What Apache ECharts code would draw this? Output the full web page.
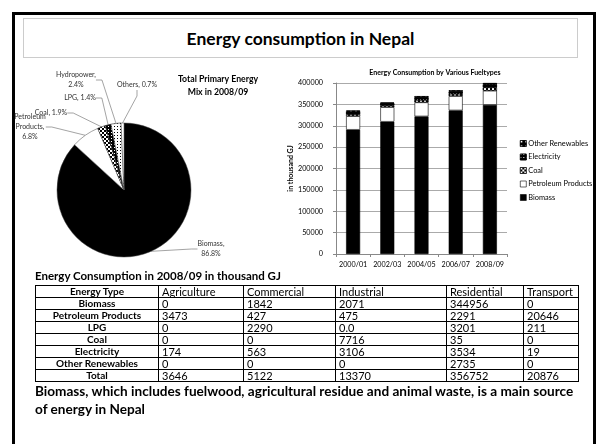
<!DOCTYPE html>
<html><head><meta charset="utf-8">
<script src="https://cdn.jsdelivr.net/npm/echarts@6/dist/echarts.min.js"></script>
<style>
html,body{margin:0;padding:0;background:#fff;}
body{width:602px;height:444px;overflow:hidden;position:relative;font-family:Lato,'Liberation Sans',sans-serif;color:#000;}
#frame{position:absolute;left:12px;top:12px;width:578px;height:440px;border:3px solid #000;border-bottom:none;}
#titlebox{position:absolute;left:23px;top:18px;width:553px;height:38px;border:1px solid #ccc;text-align:center;font-weight:bold;font-size:17.5px;line-height:39px;}
#chart{position:absolute;left:0;top:0;width:602px;height:444px;}
#ttitle{position:absolute;left:35px;top:269px;font-weight:bold;font-size:11.5px;line-height:14px;}
#tbl{position:absolute;left:35px;top:285px;width:543px;border-collapse:collapse;font-size:11px;table-layout:fixed;}
#tbl td{border:1px solid #000;height:11px;padding:0 3px;line-height:11px;white-space:nowrap;overflow:hidden;}
#tbl tr:first-child td{font-weight:bold;text-align:center;border-bottom:2px solid #000;font-size:10.5px;}
#tbl td:first-child{font-weight:bold;text-align:center;font-size:10px;}
#tbl tr:first-child td:first-child{font-size:10.5px;}
#caption{position:absolute;left:35px;top:382px;font-weight:bold;font-size:13.6px;line-height:18px;width:565px;white-space:nowrap;}
</style></head>
<body>
<div id="frame"></div>
<div id="titlebox">Energy consumption in Nepal</div>
<div id="chart"></div>
<div id="ttitle">Energy Consumption in 2008/09 in thousand GJ</div>
<table id="tbl"></table>
<div id="caption">Biomass, which includes fuelwood, agricultural residue and animal waste, is a main source<br>of energy in Nepal</div>
<script>
// ---- Pie data ----
const pieNames = ['Biomass','Petroleum Products','Coal','LPG','Hydropower','Others'];
const pieLabelText = ['Biomass,\n86.8%','Petroleum\nProducts,\n6.8%','Coal, 1.9%','LPG, 1.4%','Hydropower,\n2.4%','Others, 0.7%'];
const pieValues = [86.8, 6.8, 1.9, 1.4, 2.4, 0.7];

// ---- Bar data ----
const years = ['2000/01','2002/03','2004/05','2006/07','2008/09'];
const biomass = [290600, 309400, 321900, 335900, 348869];
const petroleum = [32000, 34300, 32800, 33600, 33014];
const coal = [4500, 4200, 5500, 5000, 7751];
const electricity = [5500, 4800, 6500, 6000, 7396];
const otherRenew = [3000, 1200, 2500, 2300, 2735];
const yTicks = [0,50000,100000,150000,200000,250000,300000,350000,400000];

// ---- Table data ----
const tableHeader = ['Energy Type','Agriculture','Commercial','Industrial','Residential','Transport'];
const tableTypes = ['Biomass','Petroleum Products','LPG','Coal','Electricity','Other Renewables','Total'];
const tAgriculture = ['0','3473','0','0','174','0','3646'];
const tCommercial = ['1842','427','2290','0','563','0','5122'];
const tIndustrial = ['2071','475','0.0','7716','3106','0','13370'];
const tResidential = ['344956','2291','3201','35','3534','2735','356752'];
const tTransport = ['0','20646','211','0','19','0','20876'];
const colWidths = [123,85,92,111,77,55];

// build table
(function(){
  const tbl = document.getElementById('tbl');
  const cg = document.createElement('colgroup');
  colWidths.forEach(w=>{const c=document.createElement('col');c.style.width=w+'px';cg.appendChild(c);});
  tbl.appendChild(cg);
  const hr = document.createElement('tr');
  tableHeader.forEach(h=>{const td=document.createElement('td');td.textContent=h;hr.appendChild(td);});
  tbl.appendChild(hr);
  tableTypes.forEach((t,i)=>{
    const tr=document.createElement('tr');
    [t,tAgriculture[i],tCommercial[i],tIndustrial[i],tResidential[i],tTransport[i]].forEach(v=>{
      const td=document.createElement('td');td.textContent=v;tr.appendChild(td);});
    tbl.appendChild(tr);
  });
})();

const checker = {symbol:'rect',symbolSize:1,color:'#000',backgroundColor:'#fff',dashArrayX:[[2,2],[0,2,2,0]],dashArrayY:[2,0],rotation:0};
const dotsOnWhite = {symbol:'rect',symbolSize:1,color:'#000',backgroundColor:'#fff',dashArrayX:[[1,2]],dashArrayY:[1,2],rotation:0};
const dotsOnBlack = {symbol:'rect',symbolSize:1,color:'#fff',backgroundColor:'#000',dashArrayX:[[1,2]],dashArrayY:[1,2],rotation:0};
const dotsOnBlackSparse = {symbol:'rect',symbolSize:1,color:'#fff',backgroundColor:'#000',dashArrayX:[[2,3]],dashArrayY:[2,3],rotation:0};

const pieStyles = [
  {color:'#000'},
  {color:'#fff'},
  {color:'#fff',decal:checker},
  {color:'#000',decal:dotsOnBlack},
  {color:'#fff',decal:dotsOnWhite},
  {color:'#fff'}
];
const labelPos = [
  {x:211,y:249},
  {x:30,y:127},
  {x:51,y:113},
  {x:80,y:98},
  {x:76,y:80},
  {x:137,y:85}
];

const chart = echarts.init(document.getElementById('chart'), null, {renderer:'canvas'});
const fontF = 'Lato, Liberation Sans, sans-serif';
const barStyle = (color, decal)=>({color:color, borderColor:'#000', borderWidth:0.6, decal:decal});

chart.setOption({
  animation:false,
  textStyle:{fontFamily:fontF},
  title:[
    {text:'Total Primary Energy\nMix in 2008/09',left:213,top:68,textAlign:'center',
     textStyle:{fontSize:8.7,fontWeight:'bold',color:'#000',lineHeight:13,fontFamily:fontF}},
    {text:'Energy Consumption by Various Fueltypes',left:430,top:64,textAlign:'center',
     textStyle:{fontSize:7,fontWeight:'bold',color:'#000',fontFamily:fontF}}
  ],
  legend:{
    orient:'vertical',left:515,top:135,itemWidth:6,itemHeight:6,itemGap:6.5,
    icon:'rect',
    data:['Other Renewables','Electricity','Coal','Petroleum Products','Biomass'],
    textStyle:{fontSize:7.4,color:'#000',fontFamily:fontF,padding:[0,0,0,-3]},
    itemStyle:{borderColor:'#000',borderWidth:0.6}
  },
  grid:{left:336,right:95,top:83,bottom:190,containLabel:false},
  xAxis:{type:'category',data:years,
    axisLine:{lineStyle:{color:'#888',width:1}},
    axisTick:{show:true,lineStyle:{color:'#888'},length:3},
    axisLabel:{fontSize:7.2,color:'#000',margin:7,interval:0,fontFamily:fontF}},
  yAxis:{type:'value',min:0,max:400000,interval:50000,
    name:'in thousand GJ',nameLocation:'middle',nameGap:38,nameRotate:90,
    nameTextStyle:{fontSize:7,fontWeight:'bold',color:'#000',fontFamily:fontF},
    axisLine:{show:true,lineStyle:{color:'#888'}},
    axisTick:{show:true,lineStyle:{color:'#888'},length:3},
    splitLine:{lineStyle:{color:'#aaa',width:1}},
    axisLabel:{fontSize:7.2,color:'#000',margin:13,fontFamily:fontF,
      formatter:v=>yTicks.includes(v)?String(v):''}},
  series:[
    {type:'pie',center:[124,190],radius:67,startAngle:90,clockwise:true,
     data:pieNames.map((n,i)=>({name:n,value:pieValues[i],itemStyle:pieStyles[i]})),
     itemStyle:{borderColor:'#444',borderWidth:0.5},
     legendHoverLink:false,
     label:{show:true,position:'outside',fontSize:7,color:'#333',lineHeight:10,fontFamily:fontF,
       formatter:p=>pieLabelText[p.dataIndex]},
     labelLine:{show:true,length:8,length2:6,lineStyle:{color:'#666',width:0.6}},
     labelLayout:p=>({x:labelPos[p.dataIndex].x,y:labelPos[p.dataIndex].y,align:'center',verticalAlign:'middle'}),
     emphasis:{disabled:true},
     silent:true
    },
    {name:'Biomass',type:'bar',stack:'t',data:biomass,barWidth:14,itemStyle:barStyle('#000')},
    {name:'Petroleum Products',type:'bar',stack:'t',data:petroleum,barWidth:14,itemStyle:barStyle('#fff')},
    {name:'Coal',type:'bar',stack:'t',data:coal,barWidth:14,itemStyle:barStyle('#fff',checker)},
    {name:'Electricity',type:'bar',stack:'t',data:electricity,barWidth:14,itemStyle:barStyle('#000',dotsOnBlack)},
    {name:'Other Renewables',type:'bar',stack:'t',data:otherRenew,barWidth:14,itemStyle:barStyle('#000',dotsOnBlackSparse)}
  ]
});
</script>
</body></html>
